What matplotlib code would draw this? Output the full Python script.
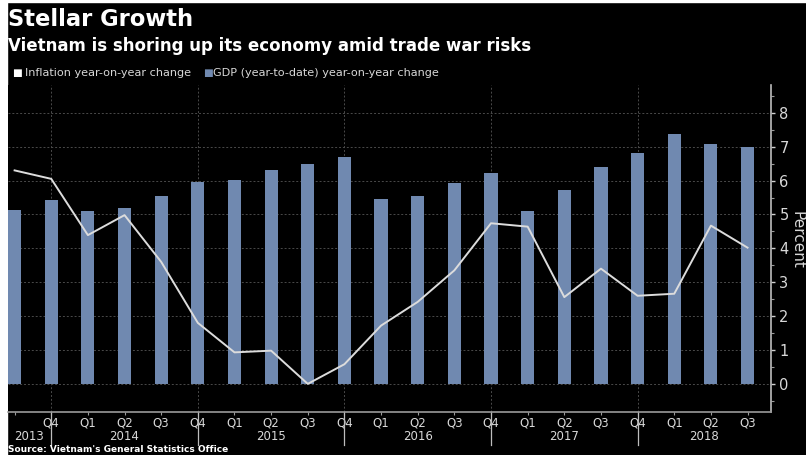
import matplotlib.pyplot as plt
import matplotlib.transforms as mtransforms
from matplotlib.patches import Rectangle
from matplotlib.ticker import MultipleLocator
import numpy as np

# quarters 2013 Q3 .. 2018 Q3
quarters = ['', 'Q4', 'Q1', 'Q2', 'Q3', 'Q4', 'Q1', 'Q2', 'Q3', 'Q4', 'Q1',
            'Q2', 'Q3', 'Q4', 'Q1', 'Q2', 'Q3', 'Q4', 'Q1', 'Q2', 'Q3']
gdp = [5.14, 5.42, 5.09, 5.18, 5.53, 5.97, 6.03, 6.30, 6.50, 6.70, 5.46,
       5.53, 5.93, 6.21, 5.10, 5.73, 6.41, 6.80, 7.38, 7.08, 6.98]
inflation = [6.30, 6.05, 4.39, 4.98, 3.60, 1.80, 0.93, 0.98, 0.00, 0.58, 1.72,
             2.42, 3.35, 4.74, 4.64, 2.56, 3.40, 2.60, 2.66, 4.67, 4.02]
years = ['2013', '2014', '2015', '2016', '2017', '2018']
year_pos = [0.4, 3, 7, 11, 15, 18.8]
year_breaks = [1, 5, 9, 13, 17]

bar_col = '#7089b0'
txt_col = '#d8d8d8'

fig = plt.figure(figsize=(8.06, 4.55), dpi=100, facecolor='black')
# white strip on the left / top like the screenshot
fig.patches.append(Rectangle((0, 0), 7.5 / 806, 1, transform=fig.transFigure,
                             color='white', zorder=-1))
fig.patches.append(Rectangle((0, 1 - 2 / 455), 1, 2 / 455, transform=fig.transFigure,
                             color='white', zorder=-1))

ax = fig.add_axes([8 / 806, 1 - 412 / 455, (771 - 8) / 806, (412 - 85) / 455])
ax.set_facecolor('black')

x = np.arange(len(gdp))
ax.bar(x, gdp, width=0.36, color=bar_col, zorder=2)
ax.plot(x, inflation, color='#dcdcdc', lw=1.4, zorder=3)

ax.set_xlim(-0.18, 20.64)
ax.set_ylim(-0.83, 8.82)

# grid
for v in range(0, 9):
    ax.axhline(v, color='#4a4a4a', lw=0.7, ls=(0, (2, 2)), zorder=1)
for b in year_breaks:
    ax.axvline(b, color='#4a4a4a', lw=0.7, ls=(0, (2, 2)), zorder=1)

# spines
for s in ['left', 'top']:
    ax.spines[s].set_visible(False)
ax.spines['bottom'].set_color('#9a9a9a')
ax.spines['right'].set_color('#bdbdbd')
ax.spines['bottom'].set_linewidth(1.2)
ax.spines['right'].set_linewidth(1.2)

# y axis on right
ax.yaxis.tick_right()
ax.set_yticks(range(0, 9))
ax.yaxis.set_minor_locator(MultipleLocator(0.5))
ax.tick_params(axis='y', which='major', colors='#cfcfcf', labelcolor=txt_col,
               length=3, width=1, pad=3, labelsize=10.5)
ax.tick_params(axis='y', which='minor', colors='#9a9a9a', length=2, width=0.8)

# x axis
ax.set_xticks(x)
ax.set_xticklabels(quarters, fontsize=8.5, color=txt_col)
ax.tick_params(axis='x', length=2, colors='#9a9a9a', labelcolor=txt_col, pad=1)

trans = mtransforms.blended_transform_factory(ax.transData, ax.transAxes)
for b in year_breaks:
    ax.plot([b, b], [0, -0.1], color='#bdbdbd', lw=0.9, transform=trans, clip_on=False)
for yl, xp in zip(years, year_pos):
    ax.text(xp, -0.0545, yl, transform=trans, ha='center', va='top',
            color=txt_col, fontsize=8.5)

fig.text(797 / 806, 1 - 240 / 455, 'Percent', rotation=270, ha='center', va='center',
         color=txt_col, fontsize=11)

# titles
fig.text(8 / 806, 1 - 20 / 455, 'Stellar Growth', color='white', fontsize=16.3,
         fontweight='bold', ha='left', va='center')
fig.text(8 / 806, 1 - 46 / 455, 'Vietnam is shoring up its economy amid trade war risks',
         color='white', fontsize=12, fontweight='bold', ha='left', va='center')

# legend
fig.text(12 / 806, 1 - 73 / 455, '\u25a0', color='white', fontsize=7.5, ha='left', va='center')
fig.text(25 / 806, 1 - 73 / 455, 'Inflation year-on-year change', color=txt_col,
         fontsize=8.1, ha='left', va='center')
fig.text(203 / 806, 1 - 73 / 455, '\u25a0', color=bar_col, fontsize=7.5, ha='left', va='center')
fig.text(213 / 806, 1 - 73 / 455, 'GDP (year-to-date) year-on-year change', color=txt_col,
         fontsize=8.1, ha='left', va='center')

fig.text(8 / 806, 0.5 / 455, "Source: Vietnam's General Statistics Office",
         color='white', fontsize=6.5, fontweight='bold', ha='left', va='bottom')

fig.savefig('out.png', dpi=100, facecolor=fig.get_facecolor())
